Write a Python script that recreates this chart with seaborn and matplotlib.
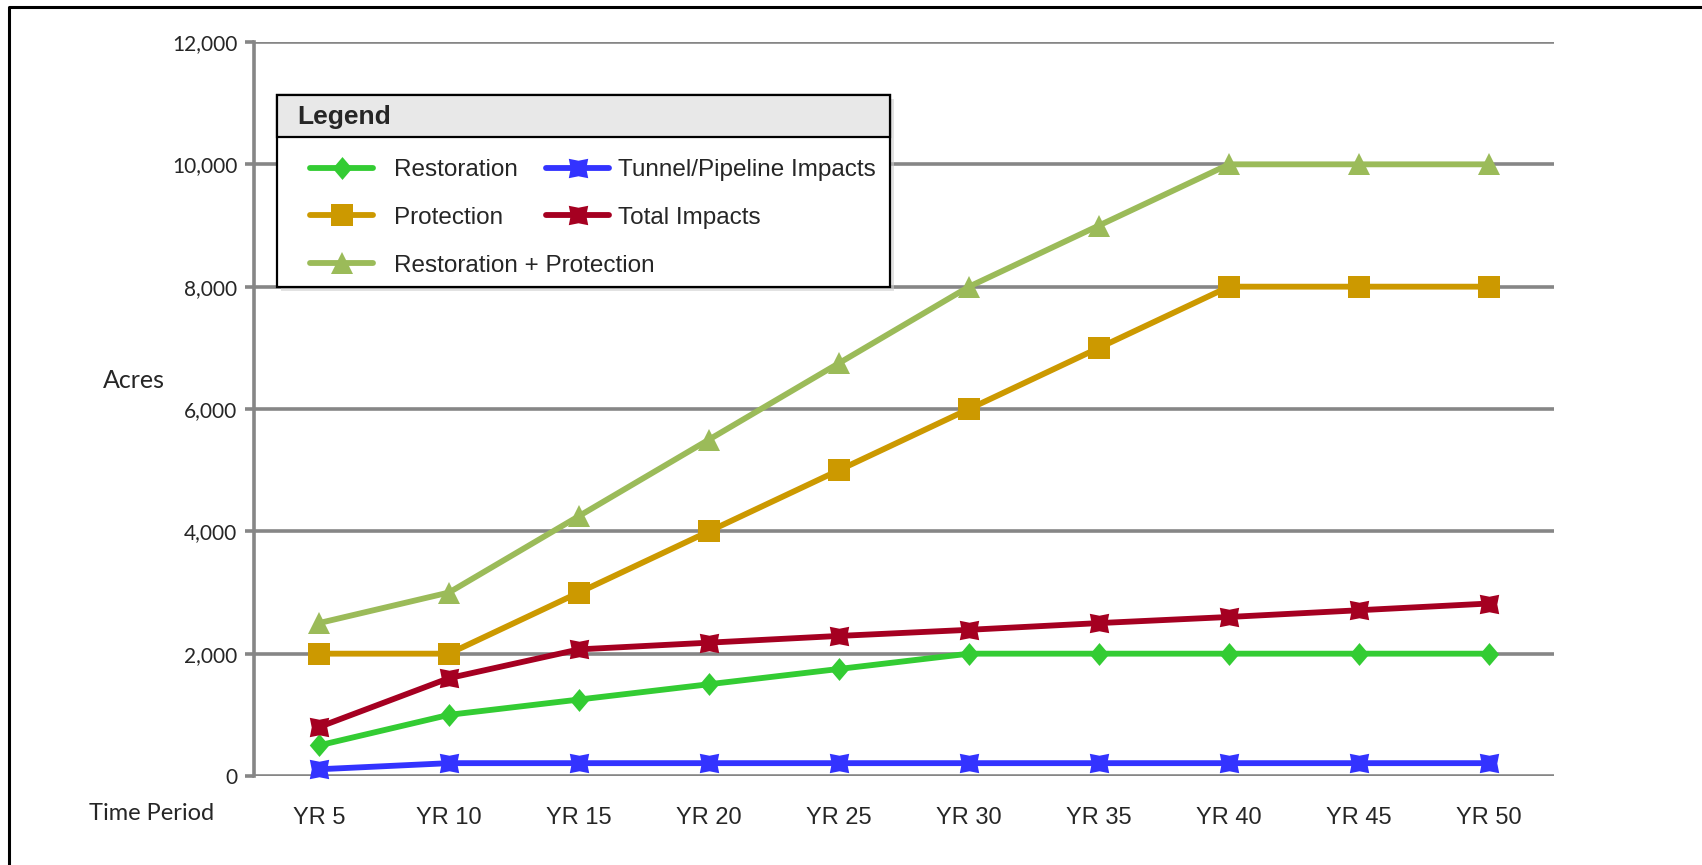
import matplotlib
matplotlib.use("Agg")
import matplotlib.pyplot as plt
import matplotlib.ticker as mticker
from matplotlib.path import Path
from matplotlib.patches import Rectangle
from matplotlib.lines import Line2D
import seaborn as sns

PERIODS = ["YR 5", "YR 10", "YR 15", "YR 20", "YR 25",
           "YR 30", "YR 35", "YR 40", "YR 45", "YR 50"]
RESTORATION = [500, 1000, 1250, 1500, 1750, 2000, 2000, 2000, 2000, 2000]
PROTECTION = [2000, 2000, 3000, 4000, 5000, 6000, 7000, 8000, 8000, 8000]
REST_PROT = [2500, 3000, 4250, 5500, 6750, 8000, 9000, 10000, 10000, 10000]
TUNNEL = [110, 210, 210, 210, 210, 210, 210, 210, 210, 210]
TOTAL = [800, 1600, 2070, 2180, 2290, 2390, 2500, 2600, 2710, 2820]
YTICKS = [0, 2000, 4000, 6000, 8000, 10000, 12000]

W, H = 1702, 865
GRID = "#868686"

sns.set_style("white")
plt.rcParams["font.family"] = ["Liberation Sans", "DejaVu Sans"]

# custom marker shapes
DIAMOND = Path([(0, 1), (0.85, 0), (0, -1), (-0.85, 0), (0, 1)],
               [Path.MOVETO, Path.LINETO, Path.LINETO, Path.LINETO, Path.CLOSEPOLY])
NOTCHED = Path([(-1, -1), (0, -0.8), (1, -1), (0.8, 0), (1, 1),
                (0, 0.8), (-1, 1), (-0.8, 0), (-1, -1)],
               [Path.MOVETO] + [Path.LINETO] * 7 + [Path.CLOSEPOLY])

SERIES = [
    ("Restoration", RESTORATION, "#33cc33", DIAMOND, 16.5),
    ("Protection", PROTECTION, "#cc9900", "s", 15.5),
    ("Restoration + Protection", REST_PROT, "#9bbb59", "^", 15.5),
    ("Tunnel/Pipeline Impacts", TUNNEL, "#3333ff", NOTCHED, 14),
    ("Total Impacts", TOTAL, "#a50021", NOTCHED, 14),
]


def px(x, y):
    """pixel (from top-left) -> figure fraction"""
    return x / W, 1 - y / H


fig = plt.figure(figsize=(W / 100, H / 100), dpi=100)
ax = fig.add_axes([254 / W, 1 - 776 / H, 1300 / W, 734 / H])

for name, vals, color, marker, ms in SERIES:
    sns.lineplot(x=PERIODS, y=vals, ax=ax, color=color, marker=marker,
                 markersize=ms, markeredgewidth=0, linewidth=4.2,
                 label=name, sort=False, solid_capstyle="round",
                 clip_on=False, zorder=3)

if ax.get_legend() is not None:
    ax.get_legend().remove()

ax.set_xlim(-0.5, 9.5)
ax.set_ylim(0, 12000)
ax.set_yticks(YTICKS)
ax.yaxis.set_major_formatter(mticker.StrMethodFormatter("{x:,.0f}"))
ax.grid(axis="y", color=GRID, linewidth=2.6, zorder=1)
ax.set_axisbelow(True)
for s in ["top", "right", "bottom"]:
    ax.spines[s].set_visible(False)
ax.spines["left"].set_color(GRID)
ax.spines["left"].set_linewidth(2.6)

ax.tick_params(axis="x", length=0, pad=22, labelsize=17)
ax.tick_params(axis="y", length=6.5, width=2.6, color=GRID, pad=5.5,
               labelsize=15, left=True)
for lab in ax.get_yticklabels():
    lab.set_fontfamily("Lato")

ax.set_ylabel("Acres", rotation=0, ha="center", va="center",
              fontsize=18, fontfamily="Lato")
ax.yaxis.set_label_coords((134 - 254) / 1300, (776 - 381) / 734)
ax.set_xlabel("Time Period", ha="center", va="center",
              fontsize=17, fontfamily="Lato")
ax.xaxis.set_label_coords((152 - 254) / 1300, (776 - 814) / 734)

# legend box with header band
bx0, by0, bx1, by1, hy = 277, 95, 890, 287, 137
fig.add_artist(Rectangle(px(bx0 + 4, by1 + 4), (bx1 - bx0) / W, (by1 - by0) / H,
                         transform=fig.transFigure, facecolor="#cfcfcf",
                         edgecolor="none", alpha=0.6, zorder=2))
fig.add_artist(Rectangle(px(bx0, by1), (bx1 - bx0) / W, (by1 - by0) / H,
                         transform=fig.transFigure, facecolor="white",
                         edgecolor="black", linewidth=1.6, zorder=3))
fig.add_artist(Rectangle(px(bx0, hy), (bx1 - bx0) / W, (hy - by0) / H,
                         transform=fig.transFigure, facecolor="#e8e8e8",
                         edgecolor="black", linewidth=1.6, zorder=3))
fig.text(*px(297, 117), "Legend", fontsize=19, fontweight="bold",
         ha="left", va="center", zorder=6)

handles, labels = ax.get_legend_handles_labels()
common = dict(loc="upper left", frameon=False, borderpad=0, borderaxespad=0,
              handlelength=2.6, labelspacing=1.06, fontsize=17.5,
              bbox_transform=fig.transFigure)
leg1 = fig.legend(handles[:3], labels[:3], bbox_to_anchor=px(310, 159),
                  handletextpad=0.85, **common)
leg2 = fig.legend(handles[3:], labels[3:], bbox_to_anchor=px(546, 159),
                  handletextpad=0.36, **common)
leg1.set_zorder(6)
leg2.set_zorder(6)

# outer frame (left and top edges)
fig.add_artist(Line2D([8.5 / W, 8.5 / W, 1.0], [0, 1 - 6.5 / H, 1 - 6.5 / H],
                      transform=fig.transFigure, color="black", linewidth=2.2,
                      zorder=7))

fig.savefig("out.png", dpi=100)
